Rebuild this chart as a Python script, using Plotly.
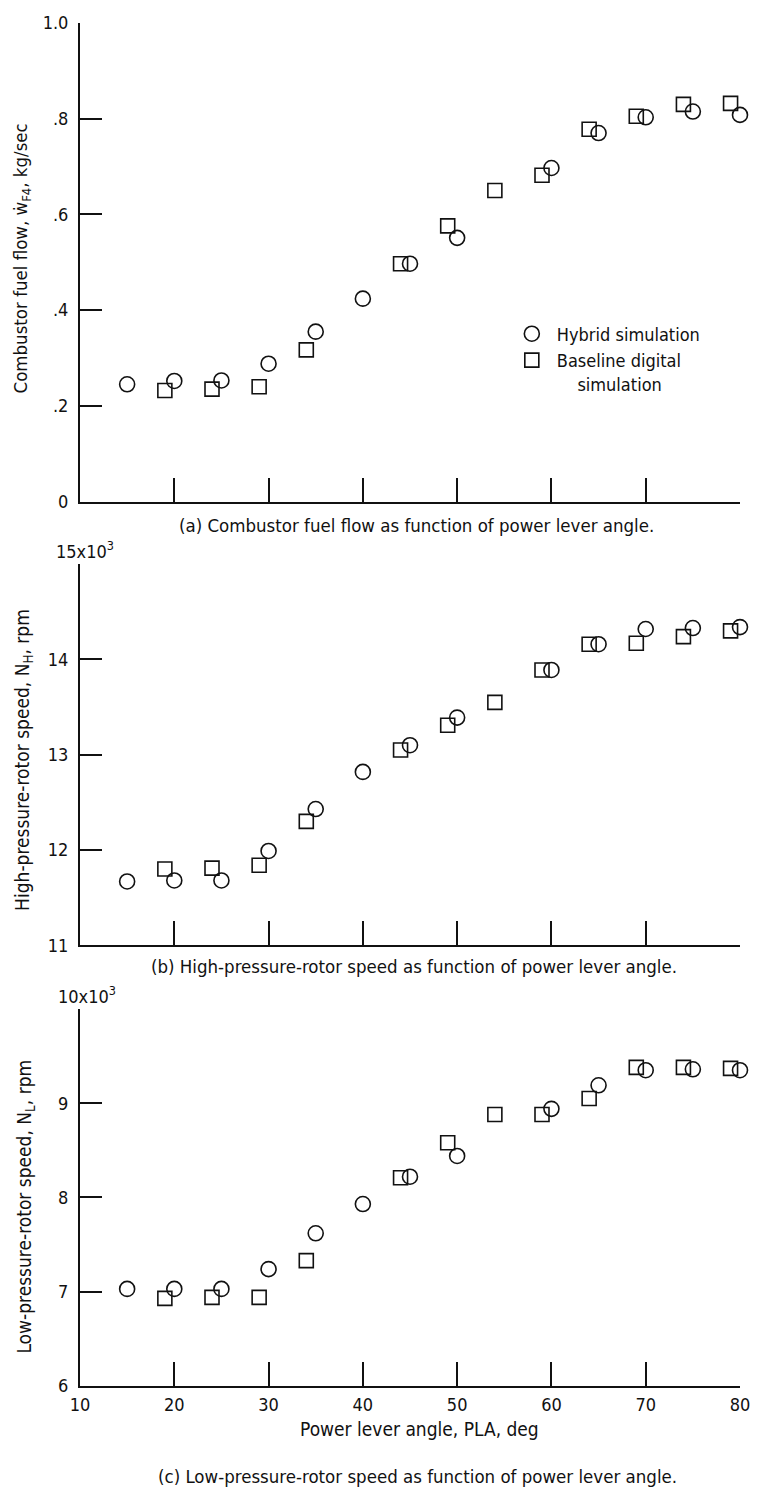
import plotly.graph_objects as go

# ---------------- data ----------------
pla_hybrid = [15, 20, 25, 30, 35, 40, 45, 50, 60, 65, 70, 75, 80]
pla_base = [19, 24, 29, 34, 44, 49, 54, 59, 64, 69, 74, 79]

fuel_hybrid = [0.245, 0.252, 0.253, 0.288, 0.355, 0.424, 0.497, 0.551, 0.697, 0.770, 0.803, 0.815, 0.808]
fuel_base = [0.232, 0.235, 0.240, 0.317, 0.497, 0.576, 0.650, 0.682, 0.778, 0.805, 0.830, 0.832]

nh_hybrid = [11670, 11680, 11680, 11990, 12430, 12820, 13100, 13390, 13890, 14160, 14320, 14330, 14340]
nh_base = [11800, 11810, 11840, 12300, 13050, 13310, 13550, 13890, 14160, 14170, 14240, 14300]

nl_hybrid = [7030, 7030, 7030, 7240, 7620, 7930, 8220, 8440, 8940, 9190, 9350, 9360, 9350]
nl_base = [6930, 6940, 6940, 7330, 8210, 8580, 8880, 8880, 9050, 9380, 9380, 9370]

x_ticks = [10, 20, 30, 40, 50, 60, 70, 80]
fuel_ticks = [0, 0.2, 0.4, 0.6, 0.8, 1.0]
fuel_ticktext = ["0", ".2", ".4", ".6", ".8", "1.0"]
nh_ticks = [11000, 12000, 13000, 14000, 15000]
nh_ticktext = ["11", "12", "13", "14", ""]
nl_ticks = [6000, 7000, 8000, 9000, 10000]
nl_ticktext = ["6", "7", "8", "9", ""]

names = ["Hybrid simulation", "Baseline digital<br>\u00a0\u00a0\u00a0\u00a0simulation"]

# ---------------- layout geometry (pixels) ----------------
W, H = 762, 1490
L, R, T, B = 80, 14, 16, 104
PW = W - L - R
PH = H - T - B


def px_x(px):
    return (px - L) / PW


def px_y(py):
    return (H - B - py) / PH


FONT = "DejaVu Sans Condensed, Liberation Sans Narrow, Arial Narrow, sans-serif"
INK = "#111111"

fig = go.Figure()

panels = [
    ("x", "y", fuel_hybrid, fuel_base, True),
    ("x2", "y2", nh_hybrid, nh_base, False),
    ("x3", "y3", nl_hybrid, nl_base, False),
]
for xa, ya, hy, ba, show in panels:
    fig.add_trace(go.Scatter(
        x=pla_hybrid, y=hy, xaxis=xa, yaxis=ya, mode="markers",
        name=names[0], showlegend=show, cliponaxis=False,
        marker=dict(symbol="circle-open", size=15, color=INK, line=dict(width=1.6, color=INK)),
    ))
    fig.add_trace(go.Scatter(
        x=pla_base, y=ba, xaxis=xa, yaxis=ya, mode="markers",
        name=names[1], showlegend=show, cliponaxis=False,
        marker=dict(symbol="square-open", size=14, color=INK, line=dict(width=1.6, color=INK)),
    ))

common_x = dict(range=[10, 80], tickvals=x_ticks, ticks="inside", ticklen=24, tickwidth=1.6,
                tickcolor=INK, showline=True, linewidth=2, linecolor=INK, showgrid=False,
                zeroline=False, tickfont=dict(family=FONT, size=18, color=INK))
common_y = dict(ticks="inside", ticklen=22, tickwidth=1.6, tickcolor=INK, showline=True,
                linewidth=2, linecolor=INK, showgrid=False, zeroline=False,
                ticklabelstandoff=6, tickfont=dict(family=FONT, size=18, color=INK))

dom_a = [px_y(497), px_y(16)]
dom_b = [px_y(943), px_y(560)]
dom_c = [px_y(1386), px_y(1007)]

fig.update_layout(
    width=W, height=H, autosize=False,
    margin=dict(l=L, r=R, t=T, b=B),
    paper_bgcolor="white", plot_bgcolor="white",
    font=dict(family=FONT, size=18, color=INK),
    xaxis=dict(common_x, anchor="y", showticklabels=False, domain=[0, 1]),
    xaxis2=dict(common_x, anchor="y2", showticklabels=False, domain=[0, 1]),
    xaxis3=dict(common_x, anchor="y3", showticklabels=True, domain=[0, 1], ticklabelstandoff=1),
    yaxis=dict(common_y, anchor="x", domain=dom_a, range=[0, 1.0], tickvals=fuel_ticks, ticktext=fuel_ticktext),
    yaxis2=dict(common_y, anchor="x2", domain=dom_b, range=[11000, 15000], tickvals=nh_ticks, ticktext=nh_ticktext),
    yaxis3=dict(common_y, anchor="x3", domain=dom_c, range=[6000, 10000], tickvals=nl_ticks, ticktext=nl_ticktext),
    legend=dict(x=px_x(512), y=px_y(310), xanchor="left", yanchor="top", valign="top",
                bgcolor="rgba(0,0,0,0)", font=dict(family=FONT, size=18, color=INK),
                itemwidth=40, tracegroupgap=0),
)

ann = []
# y-axis titles
ann.append(dict(text="Combustor fuel flow, \u1e87<sub>F4</sub>, kg/sec", x=px_x(21), y=px_y(253),
                textangle=-90, font=dict(size=18.5)))
ann.append(dict(text="High-pressure-rotor speed, N<sub>H</sub>, rpm", x=px_x(23), y=px_y(757),
                textangle=-90, font=dict(size=19)))
ann.append(dict(text="Low-pressure-rotor speed, N<sub>L</sub>, rpm", x=px_x(25), y=px_y(1206),
                textangle=-90, font=dict(size=19)))
# top tick labels with exponent
ann.append(dict(text="15x10<sup>3</sup>", x=px_x(54), y=px_y(560), xanchor="left", yanchor="bottom",
                font=dict(size=18)))
ann.append(dict(text="10x10<sup>3</sup>", x=px_x(56), y=px_y(1007), xanchor="left", yanchor="bottom",
                font=dict(size=18)))
# x-axis title
ann.append(dict(text="Power lever angle, PLA, deg", x=px_x(424), y=px_y(1429), font=dict(size=19)))
# captions
ann.append(dict(text="(a) Combustor fuel flow as function of power lever angle.", x=px_x(421), y=px_y(521),
                font=dict(size=18.5)))
ann.append(dict(text="(b) High-pressure-rotor speed as function of power lever angle.", x=px_x(418), y=px_y(964),
                font=dict(size=18.5)))
ann.append(dict(text="(c) Low-pressure-rotor speed as function of power lever angle.", x=px_x(422), y=px_y(1477),
                font=dict(size=18.5)))
for a in ann:
    a.setdefault("xanchor", "center")
    a.setdefault("yanchor", "middle")
    a.update(xref="paper", yref="paper", showarrow=False)
    a["font"] = dict(family=FONT, color=INK, **a["font"])
fig.update_layout(annotations=ann)

fig.write_html("out.html")
